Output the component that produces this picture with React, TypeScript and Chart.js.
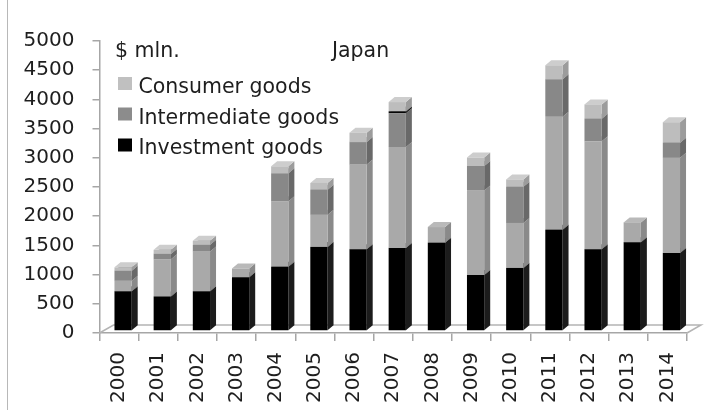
import { useEffect, useRef } from 'react';
import { Chart, registerables } from 'chart.js';
Chart.register(...registerables);

const years = ['2000', '2001', '2002', '2003', '2004', '2005', '2006', '2007', '2008', '2009', '2010', '2011', '2012', '2013', '2014'];
const yTicks = [0, 500, 1000, 1500, 2000, 2500, 3000, 3500, 4000, 4500, 5000];

const investment = [680, 590, 680, 920, 1100, 1440, 1400, 1420, 1510, 960, 1080, 1735, 1400, 1520, 1335];
const unlabeledA = [180, 640, 680, 150, 1120, 550, 1450, 1730, 270, 1445, 770, 1935, 1850, 340, 1630];
const intermediate = [170, 90, 115, 0, 480, 430, 385, 580, 0, 420, 620, 640, 385, 0, 260];
const unlabeledB = [0, 0, 0, 0, 0, 0, 0, 30, 0, 0, 0, 0, 0, 0, 0];
const consumer = [60, 70, 70, 0, 120, 115, 160, 160, 0, 145, 125, 240, 245, 0, 350];

const unitLabel = '$ mln.';
const countryLabel = 'Japan';
const legendNames = ['Consumer goods', 'Intermediate goods', 'Investment goods'];

const FONT = '"DejaVu Sans"';
const TEXT = '#1e1e1e';
const AXIS = '#a6a6a6';

const faces: Record<string, { side: string; top: string }> = {
  '#000000': { side: '#1c1c1c', top: '#3a3a3a' },
  '#a9a9a9': { side: '#8a8a8a', top: '#b9b9b9' },
  '#888888': { side: '#696969', top: '#9a9a9a' },
  '#050505': { side: '#1c1c1c', top: '#3a3a3a' },
  '#bdbdbd': { side: '#9c9c9c', top: '#cdcdcd' },
};

const legendColors = ['#c0c0c0', '#8c8c8c', '#000000'];

const bar3d = {
  id: 'bar3d',
  beforeDraw(chart: any) {
    const ctx = chart.ctx;
    ctx.save();
    ctx.fillStyle = '#ffffff';
    ctx.fillRect(0, 0, chart.width, chart.height);
    ctx.strokeStyle = '#b8b8b8';
    ctx.lineWidth = 1;
    ctx.beginPath();
    ctx.moveTo(7.5, 0);
    ctx.lineTo(7.5, chart.height);
    ctx.stroke();
    ctx.restore();
  },
  beforeDatasetsDraw(chart: any) {
    const ctx = chart.ctx;
    const a = chart.chartArea;
    // floor
    ctx.save();
    ctx.strokeStyle = '#b4b4b4';
    ctx.lineWidth = 1.5;
    ctx.beginPath();
    ctx.moveTo(a.left, a.bottom);
    ctx.lineTo(a.left + 14, a.bottom - 8);
    ctx.lineTo(a.right + 14, a.bottom - 8);
    ctx.lineTo(a.right, a.bottom);
    ctx.stroke();
    ctx.restore();

    ctx.save();
    ctx.translate(4, -2);
    const dx = 6;
    const dy = 5;
    chart.data.datasets.forEach((ds: any, i: number) => {
      const meta = chart.getDatasetMeta(i);
      const f = faces[ds.backgroundColor] || { side: '#777', top: '#aaa' };
      meta.data.forEach((el: any) => {
        const p = el.getProps(['x', 'y', 'base', 'width'], true);
        const top = Math.min(p.y, p.base);
        const bottom = Math.max(p.y, p.base);
        if (bottom - top < 0.5) return;
        const left = p.x - p.width / 2;
        const right = p.x + p.width / 2;
        ctx.fillStyle = f.side;
        ctx.beginPath();
        ctx.moveTo(right, top);
        ctx.lineTo(right + dx, top - dy);
        ctx.lineTo(right + dx, bottom - dy);
        ctx.lineTo(right, bottom);
        ctx.closePath();
        ctx.fill();
        ctx.fillStyle = f.top;
        ctx.beginPath();
        ctx.moveTo(left, top);
        ctx.lineTo(left + dx, top - dy);
        ctx.lineTo(right + dx, top - dy);
        ctx.lineTo(right, top);
        ctx.closePath();
        ctx.fill();
      });
    });
  },
  afterDatasetsDraw(chart: any) {
    chart.ctx.restore();
  },
  afterDraw(chart: any) {
    const ctx = chart.ctx;
    ctx.save();
    ctx.font = `20.5px ${FONT}`;
    ctx.fillStyle = TEXT;
    ctx.textBaseline = 'alphabetic';
    ctx.textAlign = 'left';
    ctx.fillText(unitLabel, 115, 56.5);
    ctx.fillText(countryLabel, 332, 56.5);
    const boxY = [77, 107.5, 138.5];
    const baseY = [92.5, 123.5, 154];
    legendNames.forEach((name, i) => {
      ctx.fillStyle = legendColors[i];
      ctx.fillRect(118, boxY[i], 14, 13);
      ctx.fillStyle = TEXT;
      ctx.fillText(name, 138.5, baseY[i]);
    });
    ctx.restore();
  },
};

export default function App() {
  const ref = useRef<HTMLCanvasElement>(null);
  useEffect(() => {
    document.body.style.margin = '0';
    const mk = (label: string, data: number[], color: string) => ({
      label,
      data,
      backgroundColor: color,
      borderWidth: 0,
      clip: false as any,
      barPercentage: 0.44,
      categoryPercentage: 1,
    });
    const chart = new Chart(ref.current!, {
      type: 'bar',
      data: {
        labels: years,
        datasets: [
          mk(legendNames[2], investment, '#000000'),
          mk('', unlabeledA, '#a9a9a9'),
          mk(legendNames[1], intermediate, '#888888'),
          mk('', unlabeledB, '#050505'),
          mk(legendNames[0], consumer, '#bdbdbd'),
        ],
      },
      options: {
        responsive: false,
        animation: false,
        layout: { padding: { top: 41, right: 20, bottom: 0, left: 0 } },
        plugins: { legend: { display: false }, tooltip: { enabled: false }, title: { display: false } },
        scales: {
          x: {
            stacked: true,
            grid: { display: true, drawOnChartArea: false, drawTicks: true, tickLength: 8, color: AXIS, lineWidth: 1.5 },
            border: { display: true, color: AXIS, width: 1.5 },
            ticks: { minRotation: 90, maxRotation: 90, padding: 11, color: TEXT, font: { family: FONT, size: 20 } },
            afterFit: (s: any) => { s.height = 77; },
          },
          y: {
            stacked: true,
            min: yTicks[0],
            max: yTicks[yTicks.length - 1],
            afterBuildTicks: (s: any) => { s.ticks = yTicks.map((v) => ({ value: v })); },
            grid: { display: true, drawOnChartArea: false, drawTicks: true, tickLength: 7, color: AXIS, lineWidth: 1.5 },
            border: { display: true, color: AXIS, width: 1.5 },
            ticks: {
              padding: 18,
              color: TEXT,
              font: { family: FONT, size: 20 },
              callback: (v: any) => String(v),
            },
            afterFit: (s: any) => { s.width = 99.5; },
          },
        },
      },
      plugins: [bar3d],
    });
    return () => chart.destroy();
  }, []);
  return (
    <div style={{ width: 707, height: 410 }}>
      <canvas ref={ref} width={707} height={410} style={{ display: 'block' }} />
    </div>
  );
}
